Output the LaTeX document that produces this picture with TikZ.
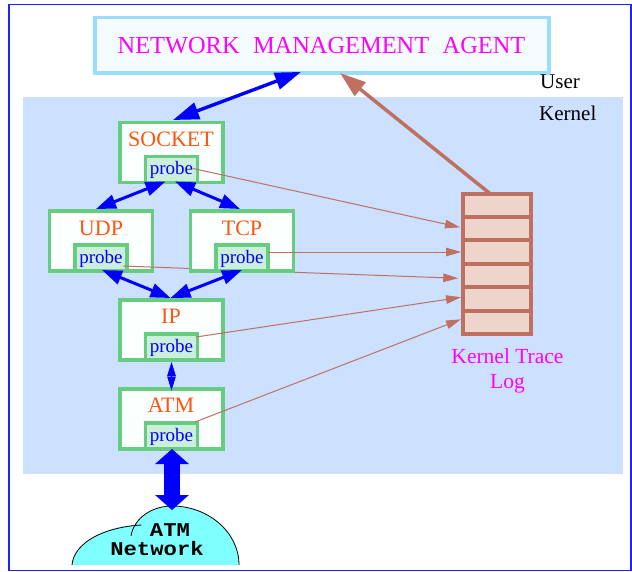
\documentclass[tikz,border=0pt]{standalone}
\usepackage{fontspec}
\setmainfont{Liberation Serif}
\newfontfamily\cloudfont{Liberation Mono}[FakeStretch=1.14]
\usetikzlibrary{arrows.meta}
\definecolor{outerline}{RGB}{34,34,255}
\definecolor{kernelbg}{HTML}{CCE0FF}
\definecolor{agentline}{HTML}{99DDFF}
\definecolor{agentfill}{HTML}{F5FCFF}
\definecolor{boxline}{HTML}{66CC80}
\definecolor{boxfill}{HTML}{FBFFFD}
\definecolor{probefill}{HTML}{CCEEDD}
\definecolor{titlecol}{HTML}{FF5511}
\definecolor{brown}{HTML}{BF7060}
\definecolor{logfill}{HTML}{EED5CC}
\definecolor{cloudfill}{HTML}{80FFFF}
\definecolor{magentatxt}{RGB}{255,0,255}
\definecolor{pureblue}{RGB}{0,0,255}
\tikzset{
  x=1pt,y=-1pt,
  layerbox/.style={draw=boxline,fill=boxfill,line width=3.9pt,minimum width=103pt,minimum height=60pt,inner sep=0pt,outer sep=0pt},
  probebox/.style={draw=boxline,fill=probefill,line width=3.6pt,minimum width=52pt,minimum height=26pt,inner sep=0pt,outer sep=0pt},
  layertitle/.style={anchor=base,text=titlecol,font=\fontsize{22}{24}\selectfont,inner sep=0pt},
  probetext/.style={anchor=base,text=pureblue,font=\fontsize{19}{22}\selectfont,inner sep=0pt},
  plain/.style={anchor=base west,text=black,font=\fontsize{21}{24}\selectfont,inner sep=0pt},
  magentatext/.style={anchor=base,text=magentatxt,inner sep=0pt},
  blk/.style={draw=pureblue,line width=3.4pt,{Triangle[length=26pt,width=17pt]}-{Triangle[length=26pt,width=17pt]}},
  blkmid/.style={draw=pureblue,line width=3pt,{Triangle[length=20pt,width=14pt]}-{Triangle[length=20pt,width=14pt]}},
  blksmall/.style={draw=pureblue,line width=.8pt,{Triangle[length=14pt,width=8.5pt]}-{Triangle[length=14pt,width=8.5pt]}},
  blkbig/.style={draw=pureblue,line width=15.5pt,{Triangle[length=15pt,width=33pt]}-{Triangle[length=15pt,width=33pt]}},
  thin brown/.style={draw=brown,line width=1pt,-{Triangle[length=15pt,width=8.5pt]}},
  logcell/.style={draw=brown,fill=logfill,line width=3.9pt,minimum width=68.5pt,minimum height=23.6pt,inner sep=0pt,outer sep=0pt},
  cloudtext/.style={anchor=base,inner sep=0pt,text=black,font=\cloudfont\bfseries\fontsize{19.5}{21}\selectfont},
}
\begin{document}
\begin{tikzpicture}
\useasboundingbox (0,0) rectangle (632,571);
% kernel area and frame
\node[fill=kernelbg,minimum width=600pt,minimum height=377pt,inner sep=0pt,anchor=north west] (kernel) at (23,97) {};
\draw[color=outerline,line width=1.3pt] (9,4.5) rectangle (631,570.5);
% agent
\node[draw=agentline,fill=agentfill,line width=3.6pt,minimum width=454pt,minimum height=55.5pt,inner sep=0pt,outer sep=0pt] (agent) at (322,45.2) {};
\node[magentatext,font=\fontsize{24.4}{26}\selectfont] (agenttxt) at (321.5,53.5) {NETWORK\hspace{.55em}MANAGEMENT\hspace{.55em}AGENT};
\node[plain] (user) at (540,88) {User};
\node[plain] (kern) at (539,120.5) {Kernel};
% trace log
\node[logcell] (c1) at (497,205.4) {};
\node[logcell] (c2) at (497,228.8) {};
\node[logcell] (c3) at (497,252.2) {};
\node[logcell] (c4) at (497,275.6) {};
\node[logcell] (c5) at (497,299.0) {};
\node[logcell] (c6) at (497,322.6) {};
\node[magentatext,font=\fontsize{21.5}{24}\selectfont] (logt1) at (507.5,363) {Kernel Trace};
\node[magentatext,font=\fontsize{21.5}{24}\selectfont] (logt2) at (507.5,388) {Log};
% layers
\node[layerbox] (sock) at (171.5,152.5) {};
\node[layerbox] (udp) at (101,241) {};
\node[probebox] (pudp) at (101,258) {};
\coordinate (pudpout) at (123,266);
\draw[thin brown] (pudpout) -- ([shift={(-4.5,2.7)}]c4.west);
\node[layerbox] (tcp) at (242,241) {};
\node[probebox] (ptcp) at (242,258) {};
\node[layerbox] (ip) at (171.5,330) {};
\node[layerbox] (atm) at (171.5,419) {};
\node[probebox] (psock) at (171.5,169.5) {};
\node[probebox] (pip) at (171.5,347) {};
\node[probebox] (patm) at (171.5,436) {};
% titles
\node[layertitle] (tsock) at (171,146) {SOCKET};
\node[layertitle] (tudp) at (101,235) {UDP};
\node[layertitle] (ttcp) at (242,235) {TCP};
\node[layertitle] (tip) at (171,323) {IP};
\node[layertitle] (tatm) at (171,412) {ATM};
\node[probetext] (wsock) at (171.5,174) {probe};
\node[probetext] (wudp) at (101,263) {probe};
\node[probetext] (wtcp) at (242,263) {probe};
\node[probetext] (wip) at (171.5,352) {probe};
\node[probetext] (watm) at (171.5,441.5) {probe};
% brown connectors
\draw[thin brown] ([shift={(21.5,-1)}]psock.center) -- ([shift={(-2.75,-1.5)}]c2.west);
\draw[thin brown] ([shift={(25.5,-6)}]ptcp.center) -- ([shift={(-1.75,-.2)}]c3.west);
\draw[thin brown] ([shift={(24.5,-10)}]pip.center) -- ([shift={(-1.75,-1.7)}]c5.west);
\draw[thin brown] ([shift={(23.5,-14)}]patm.center) -- ([shift={(-1.75,-3.3)}]c6.west);
\draw[draw=brown,line width=3.5pt,-{Triangle[length=26pt,width=17pt]}] ([shift={(-7,0)}]c1.north) -- ([shift={(18,0)}]agent.south);
% blue connectors
\draw[blk] ([shift={(-21,-1)}]agent.south) -- ([shift={(1.5,-2.5)}]sock.north);
\draw[blkmid] ([shift={(-6,-1)}]psock.south) -- ([shift={(-5,-2)}]udp.north);
\draw[blkmid] ([shift={(3.5,-1)}]psock.south) -- ([shift={(-2,-2)}]tcp.north);
\draw[blkmid] ([shift={(1,-1)}]pudp.south) -- ([shift={(-1,-2)}]ip.north);
\draw[blkmid] ([shift={(0,-1)}]ptcp.south) -- ([shift={(-1,-2)}]ip.north);
\draw[blksmall] ([yshift=-2pt]pip.south) -- ([yshift=-1.5pt]atm.north);
% cloud
\path[fill=cloudfill] (72,565) .. controls (74,542) and (105,527) .. (135,525) .. controls (143,513) and (157,506) .. (172,506) .. controls (208,506) and (239,532) .. (239,565) -- cycle;
\draw[black,line width=.8pt] (72,565) .. controls (74,542) and (105,527) .. (141.5,525);
\draw[black,line width=.8pt] (131,536) .. controls (134,518) and (152,506) .. (172,506) .. controls (208,506) and (239,532) .. (239,565);
\coordinate (cloudtop) at (172,510);
\node[cloudtext] (cl1) at (170,536) {ATM};
\node[cloudtext] (cl2) at (157,555) {Network};
\draw[blkbig] ([xshift=0.5pt]patm.south) -- (cloudtop);
\end{tikzpicture}
\end{document}
